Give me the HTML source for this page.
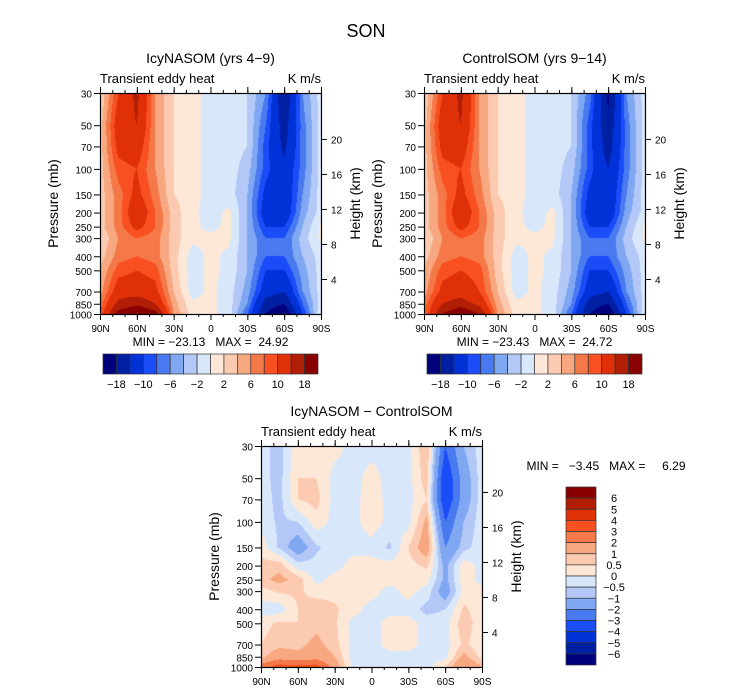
<!DOCTYPE html>
<html><head><meta charset="utf-8">
<style>
body{margin:0;background:#fff;}
#wrap{position:relative;width:733px;height:691px;overflow:hidden;font-family:"Liberation Sans",sans-serif;}
canvas{position:absolute;}
svg{position:absolute;left:0;top:0;}
text{white-space:pre;}
</style></head>
<body>
<div id="wrap">
<canvas id="c1" width="221" height="221" style="left:100px;top:93px"></canvas>
<canvas id="c2" width="221" height="221" style="left:424px;top:93px"></canvas>
<canvas id="c3" width="221" height="221" style="left:261px;top:446px"></canvas>
<svg id="s" width="733" height="691"></svg>
</div>
<script>
const lats = [90,75,60,45,30,15,0,-15,-30,-45,-60,-75,-90];
const plevs = [30,50,70,100,150,200,250,300,400,500,700,850,1000];
const icyVals = [
[2,10,15,6,2,1,-1,-1,-2,-6,-18,-6,-1],
[3,12,14,6,2,1,-1,-1,-2,-8,-16,-7,-1],
[3,11,12,6,2,1,-1,-1,-2,-9,-15,-7,-1],
[3,9,10,6,2,1,-1,-1,-3,-9,-13,-7,-1],
[3,7,11,7,2,1,-1,-1,-4,-11,-13,-6,-1],
[3,7,13,8,3,0.5,-1,0.5,-4,-12,-13,-5,-1],
[3,7,11,8,3,0.5,-0.5,0.5,-4,-10,-10,-4,0.5],
[2,6,8,7,3,0.5,0.5,0.5,-4,-8,-8,-3,0.5],
[3,7,8,7,3,-1,0.5,-0.5,-4,-8,-8,-4,-1],
[4,9,10,9,3,-1,0.5,-0.5,-4,-10,-10,-5,-1],
[5,12,12,11,4,-1,0.5,-1,-5,-12,-14,-6,-1],
[7,15,17,14,5,0.5,0.5,-1,-6,-16,-18,-8,-1],
[8,20,23,20,6,1,0.5,-1,-8,-18,-22,-10,0]];
const ctlVals = [
[2,10,15,6,2,1,-1,-1,-2,-7,-19,-6,-1],
[3,12,14,6,2,1,-1,-1,-2,-9,-17,-7,-1],
[3,11,12,6,2,1,-1,-1,-2,-9,-16,-7,-1],
[3,9,10,6,2,1,-1,-1,-3,-9,-14,-7,-1],
[3,7,11,7,2,1,-1,-1,-4,-11,-13,-6,-1],
[3,7,13,8,3,0.5,-1,0.5,-4,-12,-13,-5,-1],
[3,7,11,8,3,0.5,-0.5,0.5,-4,-10,-10,-4,0.5],
[2,6,8,7,3,0.5,0.5,0.5,-4,-8,-8,-3,0.5],
[3,7,8,7,3,-1,0.5,-0.5,-4,-8,-8,-4,-1],
[4,9,10,9,3,-1,0.5,-0.5,-4,-10,-10,-5,-1],
[5,11,12,10,4,-1,0.5,-1,-5,-12,-14,-6,-1],
[7,14,16,13,5,0.5,0.5,-1,-6,-16,-18,-8,-1],
[7,18,22,18,6,1,0.5,-1,-8,-18,-22,-10,0]];
const diffVals = [
[-0.3,-0.7,0.3,0.5,0.2,-0.2,-0.2,-0.2,-0.2,1,-3,-1,-0.2],
[-0.3,-0.7,0.5,0.5,-0.2,-0.2,0.2,-0.2,-0.2,0.8,-4,-1.5,-0.2],
[-0.2,-0.7,0.5,0.7,-0.2,-0.2,0.3,-0.2,-0.2,0.5,-4,-1.5,-0.2],
[-0.2,-0.6,-0.5,0.3,-0.2,-0.2,0.3,-0.2,-0.2,1.2,-3,-1,-0.2],
[0.3,-0.6,-1.5,-0.6,-0.2,-0.2,-0.2,-0.6,0.5,1.5,-2,-0.7,-0.2],
[0.7,0.8,-0.3,-0.3,-0.2,0.2,0.2,0.2,0.3,0.6,-1.2,0.3,-0.2],
[0.8,1.2,0.8,-0.2,0.2,0.2,0.3,0.2,0.2,0.2,-1.2,0.3,-0.2],
[0.3,0.6,0.6,0.3,0.3,0.2,0.2,-0.2,0.2,-0.2,-1.5,0.2,0.2],
[-0.3,-0.3,0.5,0.8,0.6,0.2,-0.2,-0.2,-0.2,-0.7,-0.5,0.6,0.2],
[0.3,0.6,0.5,0.8,0.6,-0.2,-0.2,0.2,0.2,-0.2,-0.2,0.8,0.2],
[0.5,0.8,0.8,1.2,0.7,-0.2,-0.2,0.2,0.2,-0.2,-0.2,0.6,0.2],
[0.8,1.5,1.2,1.5,1,-0.2,-0.2,-0.2,-0.2,-0.2,-0.2,1.2,0.3],
[2.5,3.5,3.5,3.5,1.5,-0.2,-0.2,-0.2,-0.2,-0.2,0.5,2,1]];
const fullLevels = [-18,-14,-10,-8,-6,-4,-2,0,2,4,6,8,10,14,18];
const fullLabels = ["−18","−10","−6","−2","2","6","10","18"];
const diffLevels = [-6,-5,-4,-3,-2,-1,-0.5,0,0.5,1,2,3,4,5,6];
const diffLabels = ["6","5","4","3","2","1","0.5","0","−0.5","−1","−2","−3","−4","−5","−6"];
const latTicks = ["90N","60N","30N","0","30S","60S","90S"];
const pTicks = [30,50,70,100,150,200,250,300,400,500,700,850,1000];
const hTicks = [4,8,12,16,20];
const colors = ["#00007c","#0020a4","#0032d8","#1a4cf8","#4a7af0","#80a8f2","#b4c8f8","#d8e8fa","#fde8d8","#fccab0","#f8a880","#f47848","#f85020","#e03008","#b01e05","#880000"];

const W=221,H=221;
function yOfP(p){return (Math.log(p)-Math.log(30))/(Math.log(1000)-Math.log(30))*H;}
function hex(c){return [parseInt(c.substr(1,2),16),parseInt(c.substr(3,2),16),parseInt(c.substr(5,2),16)];}
const rgb = colors.map(hex);
function drawField(id, vals, levels){
  const cv=document.getElementById(id), ctx=cv.getContext('2d');
  const img=ctx.createImageData(W,H);
  const py = plevs.map(yOfP);
  for(let y=0;y<H;y++){
    const yy=y+0.5; let j=0;
    while(j<py.length-2 && py[j+1]<yy) j++;
    const ty=Math.min(1,Math.max(0,(yy-py[j])/(py[j+1]-py[j])));
    for(let x=0;x<W;x++){
      const fx=(x+0.5)/W*(lats.length-1); let i=Math.min(lats.length-2,Math.floor(fx)); const tx=fx-i;
      const v=(vals[j][i]*(1-tx)+vals[j][i+1]*tx)*(1-ty)+(vals[j+1][i]*(1-tx)+vals[j+1][i+1]*tx)*ty;
      let k=0; while(k<levels.length && v>=levels[k]) k++;
      const c=rgb[k], o=(y*W+x)*4;
      img.data[o]=c[0];img.data[o+1]=c[1];img.data[o+2]=c[2];img.data[o+3]=255;
    }
  }
  ctx.putImageData(img,0,0);
}
drawField('c1',icyVals,fullLevels);
drawField('c2',ctlVals,fullLevels);
drawField('c3',diffVals,diffLevels);

const NS="http://www.w3.org/2000/svg", svg=document.getElementById('s');
function el(tag,attrs,txt){const e=document.createElementNS(NS,tag);for(const k in attrs)e.setAttribute(k,attrs[k]);if(txt!==undefined)e.textContent=txt;svg.appendChild(e);return e;}
function txt(x,y,s,size,anchor,name,extra){const e=el('text',Object.assign({x:x,y:y,'font-size':size,'text-anchor':anchor||'middle','font-family':'Liberation Sans, sans-serif',fill:'#000'},extra||{}),s);


return e;}
function line(x1,y1,x2,y2,name){const e=el('line',{x1:x1,y1:y1,x2:x2,y2:y2,stroke:'#000','stroke-width':1});


return e;}

txt(366,37,"SON",18,'middle','figure-title');

function hOfY(h){return yOfP(1000*Math.exp(-h/7.2));}

function axes(ox,oy,title,minmax){
  txt(ox+W/2,oy-30,title,14,'middle','panel-title');
  txt(ox,oy-10,"Transient eddy heat",13,'start','field-label');
  txt(ox+W,oy-10,"K m/s",13,'end','units-label');
  const r=el('rect',{x:ox+0.5,y:oy+0.5,width:W,height:H,fill:'none',stroke:'#000','stroke-width':1.2});
  
  
  latTicks.forEach((l,i)=>{const x=ox+i*W/6+0.5;
    line(x,oy+H,x,oy+H+6,'x-tick');line(x,oy,x,oy-6,'x-tick-top');
    txt(x,oy+H+18,l,10,'middle','x-tick-label');});
  for(let i=0;i<18;i++){const x=ox+i*W/18+0.5;line(x,oy+H,x,oy+H+3,'x-minor-tick');line(x,oy,x,oy-3,'x-minor-tick-top');}
  pTicks.forEach(p=>{const y=oy+yOfP(p)+0.5;line(ox-6,y,ox,y,'y-tick');
    txt(ox-8,y+4,String(p),10,'end','y-tick-label');});
  hTicks.forEach(h=>{const y=oy+hOfY(h)+0.5;line(ox+W,y,ox+W+6,y,'height-tick');
    txt(ox+W+10,y+4,String(h),10,'start','height-tick-label');});
  txt(0,0,"Pressure (mb)",14,'middle','y-axis-title',{transform:`translate(${ox-42},${oy+H/2}) rotate(-90)`});
  txt(0,0,"Height (km)",14,'middle','height-axis-title',{transform:`translate(${ox+W+39},${oy+H/2}) rotate(-90)`});
  if(minmax) txt(ox+W/2,oy+H+32,minmax,12,'middle','min-max-label');
}
axes(100,93,"IcyNASOM (yrs 4−9)","MIN = −23.13   MAX =  24.92");
axes(424,93,"ControlSOM (yrs 9−14)","MIN = −23.43   MAX =  24.72");
axes(261,446,"IcyNASOM − ControlSOM");
txt(606,470,"MIN =   −3.45   MAX =     6.29",12,'middle','diff-min-max-label');

function hbar(ox,oy){
  const bw=215/16;
  colors.forEach((c,i)=>{const r=el('rect',{x:ox+i*bw,y:oy,width:bw,height:20,fill:c,stroke:'#333','stroke-width':0.7});
  
  });
  fullLabels.forEach((s,k)=>{txt(ox+(2*k+1)*bw,oy+34,s,11,'middle','colorbar-label');});
}
hbar(103,354);hbar(427,354);
(function(){
  const ox=566,oy=487,bh=178/16;
  for(let i=0;i<16;i++){const r=el('rect',{x:ox,y:oy+i*bh,width:30,height:bh,fill:colors[15-i],stroke:'#333','stroke-width':0.7});
  
  }
  diffLabels.forEach((s,k)=>{txt(ox+48,oy+(k+1)*bh+4,s,11,'middle','diff-colorbar-label');});
})();
</script>
</body></html>
